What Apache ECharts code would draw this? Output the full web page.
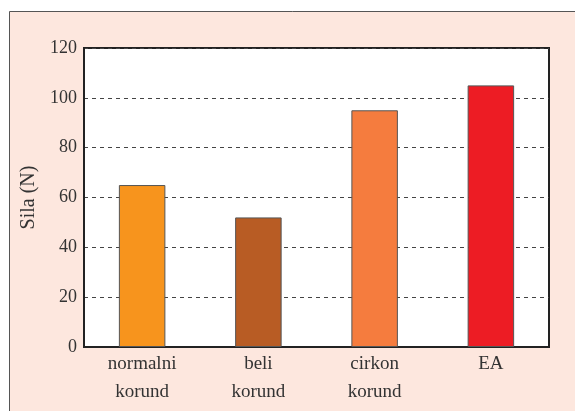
<!DOCTYPE html>
<html>
<head>
<meta charset="utf-8">
<script src="https://cdn.jsdelivr.net/npm/echarts@6/dist/echarts.min.js"></script>
<style>
  html, body { margin: 0; padding: 0; background: #fff; }
  #main { width: 575px; height: 411px; }
</style>
</head>
<body>
<div id="main"></div>
<script>
// podaci
var categories = ['normalni\nkorund', 'beli\nkorund', 'cirkon\nkorund', 'EA'];
var values = [65, 52, 95, 105];
var barColors = ['#F7941D', '#B85C24', '#F57C3E', '#ED1C24'];
var yTicks = [0, 20, 40, 60, 80, 100, 120];

var chart = echarts.init(document.getElementById('main'));
var font = 'Liberation Serif';

var option = {
  animation: false,
  graphic: [{
    type: 'rect',
    z: -10,
    shape: { x: 9.5, y: 11.5, width: 600, height: 420 },
    style: { fill: '#FDE7DE', stroke: '#555', lineWidth: 1 }
  }],
  grid: {
    left: 84, top: 48, right: 26, bottom: 64,
    show: true,
    backgroundColor: '#fff',
    borderColor: '#222',
    borderWidth: 2
  },
  xAxis: {
    type: 'category',
    data: categories,
    axisLine: { lineStyle: { color: '#222', width: 2 } },
    axisTick: { show: false },
    axisLabel: {
      color: '#333', fontFamily: font, fontSize: 19,
      lineHeight: 28, margin: 3, interval: 0
    }
  },
  yAxis: {
    type: 'value',
    min: yTicks[0], max: yTicks[yTicks.length - 1], interval: 20,
    name: 'Sila (N)',
    nameLocation: 'middle',
    nameGap: 38,
    nameTextStyle: { color: '#333', fontFamily: font, fontSize: 20 },
    axisLine: { show: true, lineStyle: { color: '#222', width: 2 } },
    axisTick: { show: false },
    axisLabel: { color: '#333', fontFamily: font, fontSize: 18, margin: 7 },
    splitLine: { lineStyle: { color: '#444', type: [4, 4], width: 1 } }
  },
  series: [{
    type: 'bar',
    barWidth: '40%',
    data: values.map(function (v, i) {
      return { value: v, itemStyle: { color: barColors[i] } };
    }),
    itemStyle: { borderColor: '#555', borderWidth: 1 }
  }]
};
chart.setOption(option);
</script>
</body>
</html>
